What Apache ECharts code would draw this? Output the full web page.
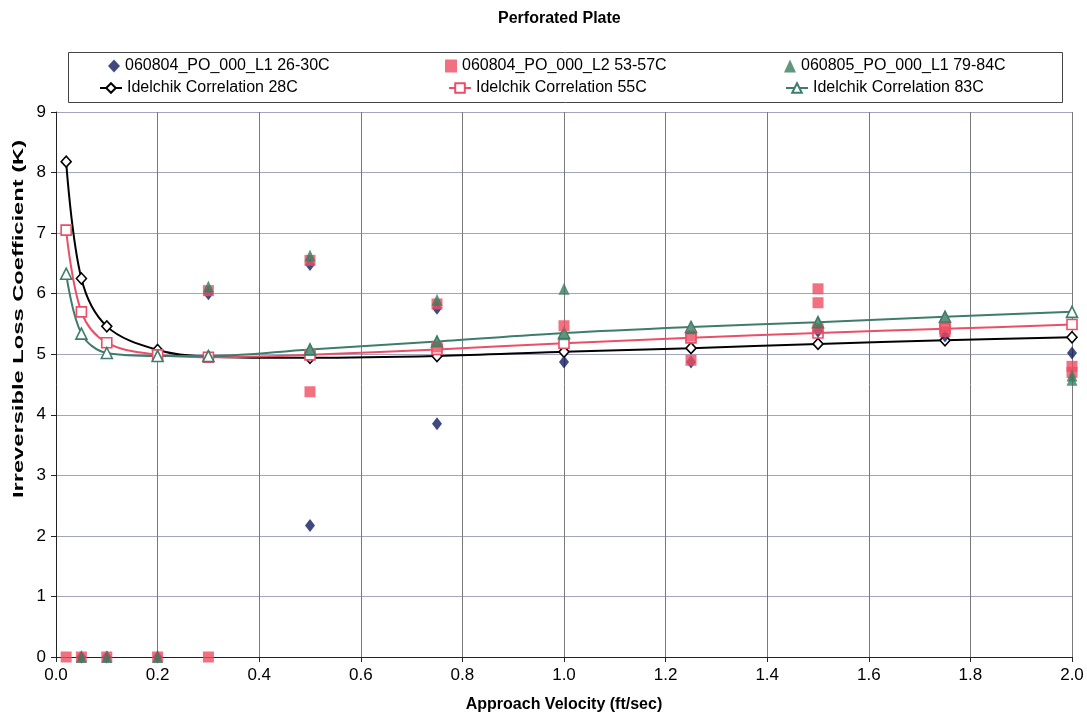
<!DOCTYPE html>
<html>
<head>
<meta charset="utf-8">
<script src="https://cdn.jsdelivr.net/npm/echarts@6/dist/echarts.min.js"></script>
<style>
html,body{margin:0;padding:0;background:#fff;}
#chart{width:1087px;height:721px;}
</style>
</head>
<body>
<div id="chart"></div>
<script>
// ---- Data ----
const curveX = [0.02, 0.05, 0.1, 0.2, 0.3, 0.5, 0.75, 1.0, 1.25, 1.5, 1.75, 2.0];
const idelchik28 = [8.18, 6.25, 5.46, 5.07, 4.96, 4.94, 4.97, 5.04, 5.10, 5.17, 5.23, 5.28];
const idelchik55 = [7.05, 5.70, 5.19, 4.99, 4.95, 4.99, 5.08, 5.18, 5.27, 5.35, 5.42, 5.49];
const idelchik83 = [6.33, 5.34, 5.02, 4.97, 4.97, 5.08, 5.21, 5.35, 5.45, 5.53, 5.62, 5.70];

const l1x = [0.05, 0.1, 0.2, 0.3, 0.5, 0.5, 0.75, 0.75, 1.0, 1.25, 1.5, 1.75, 2.0];
const l1y = [0, 0, 0, 6.00, 6.48, 2.17, 5.76, 3.85, 4.87, 4.87, 5.38, 5.30, 5.02];

const l2x = [0.02, 0.05, 0.1, 0.2, 0.3, 0.3, 0.5, 0.5, 0.75, 0.75, 1.0, 1.25, 1.25, 1.5, 1.5, 1.5, 1.75, 1.75, 2.0, 2.0];
const l2y = [0, 0, 0, 0, 0, 6.05, 6.55, 4.38, 5.83, 5.12, 5.47, 5.30, 4.90, 6.08, 5.85, 5.42, 5.45, 5.37, 4.80, 4.70];

const l3x = [0.05, 0.1, 0.2, 0.3, 0.5, 0.5, 0.75, 0.75, 1.0, 1.0, 1.25, 1.5, 1.75, 2.0, 2.0];
const l3y = [0, 0, 0, 6.12, 6.63, 5.08, 5.90, 5.22, 6.08, 5.33, 5.43, 5.53, 5.62, 4.65, 4.58];

const seriesNames = [
  '060804_PO_000_L1 26-30C',
  '060804_PO_000_L2 53-57C',
  '060805_PO_000_L1 79-84C',
  'Idelchik Correlation 28C',
  'Idelchik Correlation 55C',
  'Idelchik Correlation 83C'
];
const titleText = 'Perforated Plate';
const xAxisTitle = 'Approach Velocity (ft/sec)';
const yAxisTitle = 'Irreversible Loss Coefficient (K)';

// ---- Build ----
const pair = (xs, ys) => xs.map((x, i) => [x, ys[i]]);
const FONT = '"Liberation Sans", Arial, sans-serif';
const navy = '#121d5e', red = '#ee4d62', green = '#3a7a5f';
const lineBlack = '#000000', linePink = '#ea4f68', lineTeal = '#3e7d6b';

const chart = echarts.init(document.getElementById('chart'), null, {renderer: 'canvas'});

function legendAt(name, left, top, w, h) {
  return {
    data: [name], left: left, top: top, itemWidth: w, itemHeight: h, itemGap: 0,
    padding: 0, selectedMode: false,
    textStyle: {fontFamily: FONT, fontSize: 16, color: '#000', padding: [0, 0, 0, 0]}
  };
}

function lineSeries(name, ys, color, symbol, size) {
  return {
    name: name, type: 'line', data: pair(curveX, ys), smooth: 0.35,
    symbol: symbol, symbolSize: size, showSymbol: true,
    lineStyle: {color: color, width: 2},
    itemStyle: {color: '#ffffff', borderColor: color, borderWidth: 1.6},
    z: 3
  };
}

const option = {
  backgroundColor: '#ffffff',
  animation: false,
  title: {
    text: titleText, left: 493, top: 6,
    textStyle: {fontFamily: FONT, fontSize: 16, fontWeight: 'bold', color: '#000'}
  },
  legend: [
    legendAt(seriesNames[0], 108, 58, 12, 13),
    legendAt(seriesNames[1], 445, 58, 12, 13),
    legendAt(seriesNames[2], 784, 58, 12, 13),
    legendAt(seriesNames[3], 99, 80, 22, 12),
    legendAt(seriesNames[4], 448, 80, 22, 12),
    legendAt(seriesNames[5], 785, 80, 22, 12)
  ],
  grid: {left: 56, right: 15, top: 112, bottom: 64, containLabel: false},
  xAxis: {
    type: 'value', min: 0, max: 2, interval: 0.2,
    name: xAxisTitle, nameLocation: 'middle', nameGap: 40,
    nameTextStyle: {fontFamily: FONT, fontSize: 16, fontWeight: 'bold', color: '#000'},
    axisLine: {show: true, onZero: false, lineStyle: {color: '#222', width: 1}},
    axisTick: {show: true, inside: false, length: 5, lineStyle: {color: '#222'}},
    axisLabel: {fontFamily: FONT, fontSize: 17, color: '#000', margin: 10,
      formatter: v => v.toFixed(1)},
    splitLine: {show: true, lineStyle: {color: '#7a7a7a', width: 1}}
  },
  yAxis: {
    type: 'value', min: 0, max: 9, interval: 1,
    axisLine: {show: true, lineStyle: {color: '#222', width: 1}},
    axisTick: {show: true, inside: false, length: 5, lineStyle: {color: '#222'}},
    axisLabel: {fontFamily: FONT, fontSize: 17, color: '#000', margin: 10},
    splitLine: {show: true, lineStyle: {color: '#a4a4bc', width: 1}}
  },
  graphic: [
    {
      type: 'rect', left: 68, top: 52, silent: true, z: -1,
      shape: {width: 994, height: 50},
      style: {fill: '#fff', stroke: '#444', lineWidth: 1}
    },
    {
      type: 'text', x: 19, y: 319, rotation: Math.PI / 2, scaleX: 1.58, silent: true,
      style: {text: yAxisTitle, font: 'bold 15px ' + FONT, fill: '#000',
        align: 'center', verticalAlign: 'middle'}
    }
  ],
  series: [
    {name: seriesNames[0], type: 'scatter', data: pair(l1x, l1y),
      symbol: 'diamond', symbolSize: [10, 13], itemStyle: {color: navy}, z: 4},
    {name: seriesNames[1], type: 'scatter', data: pair(l2x, l2y),
      symbol: 'rect', symbolSize: [11, 11], itemStyle: {color: red}, z: 4},
    {name: seriesNames[2], type: 'scatter', data: pair(l3x, l3y),
      symbol: 'triangle', symbolSize: [11, 12], itemStyle: {color: green}, z: 4},
    lineSeries(seriesNames[3], idelchik28, lineBlack, 'diamond', [10, 11]),
    lineSeries(seriesNames[4], idelchik55, linePink, 'rect', [10, 10]),
    lineSeries(seriesNames[5], idelchik83, lineTeal, 'triangle', [11, 11])
  ]
};
chart.setOption(option);
</script>
</body>
</html>
